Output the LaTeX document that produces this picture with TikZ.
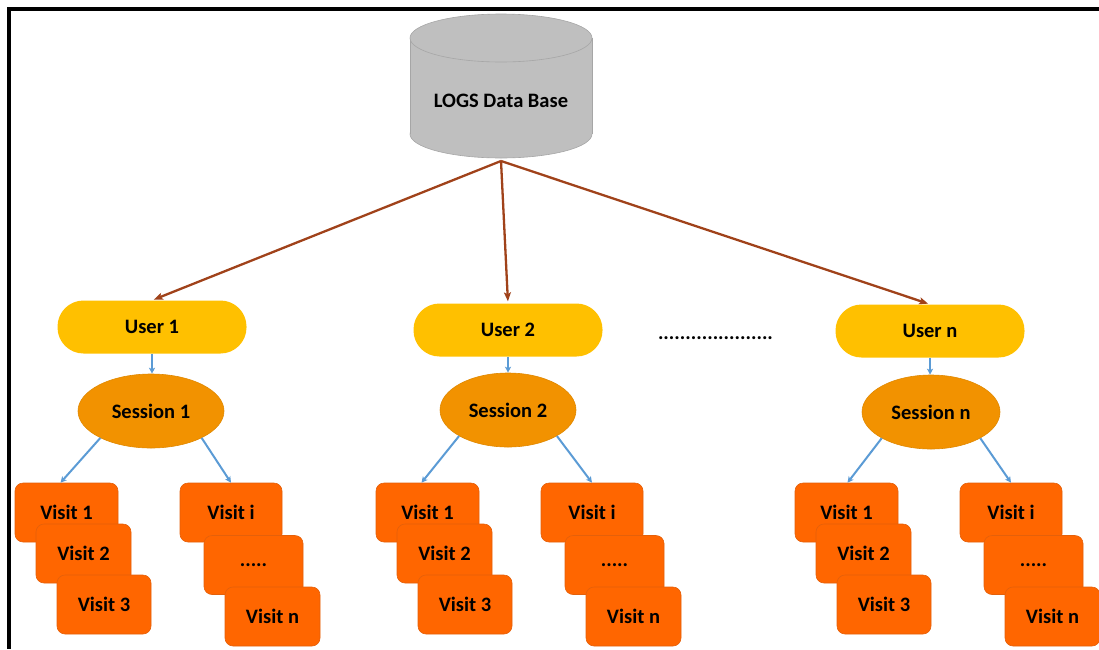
\documentclass[tikz,border=0pt]{standalone}
\usepackage{fontspec}
\setmainfont{Carlito}
\usetikzlibrary{arrows.meta,shapes.geometric}
\definecolor{userc}{HTML}{FFC000}
\definecolor{sessc}{HTML}{F29200}
\definecolor{sessd}{HTML}{E08800}
\definecolor{visitc}{HTML}{FF6600}
\definecolor{visitd}{HTML}{E4600A}
\definecolor{brownc}{HTML}{A0421A}
\definecolor{bluec}{HTML}{5B9BD5}
\definecolor{dbfill}{HTML}{BFBFBF}
\definecolor{dbline}{HTML}{A6A6A6}
\begin{document}
\begin{tikzpicture}[x=1pt,y=-1pt,
  every node/.style={font=\bfseries\fontsize{20.5}{24}\selectfont, inner sep=0pt},
  userbox/.style={fill=userc, rounded corners=26pt, minimum width=189pt, minimum height=53pt},
  sessbox/.style={ellipse, fill=sessc, draw=sessd, line width=0.6pt, minimum height=74pt},
  visitbox/.style={fill=visitc, draw=visitd, line width=0.6pt, rounded corners=8pt, minimum height=59pt},
  brownarrow/.style={draw=brownc, line width=2.3pt, shorten >=2pt, -{Stealth[length=9pt,width=7pt,inset=2pt]}},
  bluearrow/.style={draw=bluec, line width=2pt, -{Stealth[length=6pt,width=6pt,inset=1.5pt]}},
  frameline/.style={line width=4pt, black}
]
\useasboundingbox (0,0) rectangle (1099,649);
% frame
\draw[frameline] (7,9) -- (1099,9);
\draw[frameline] (9,7) -- (9,649);
% database cylinder
\fill[dbfill, draw=dbline, line width=0.6pt] (501,134) ellipse[x radius=91, y radius=24];
\fill[dbfill] (410,38) rectangle (592,134);
\draw[dbline, line width=0.6pt] (410,38) -- (410,134) (592,38) -- (592,134);
\fill[dbfill, draw=dbline, line width=0.6pt] (501,38) ellipse[x radius=91, y radius=24];
\node (db) at (501,101) {LOGS Data Base};
\coordinate (dbb) at (501,161);
% dotted separator
\node[anchor=base] (dots) at (715.5,339) {.....................};
% groups
\foreach \g/\dx/\ux/\uy/\sx/\sy/\sw/\lt in {1/0/152/327/151/411/146/-6, 2/361/508/330/508/410/136/-6, n/780/930/331/931/412/138/1} {
  \node[userbox] (u\g) at (\ux,\uy) {User \g};
  \node[sessbox, minimum width=\sw pt] (s\g) at (\sx,\sy) {Session \g};
  \node[visitbox, minimum width=103pt] (v\g-1) at (66.5+\dx,512.5) {Visit 1};
  \node[visitbox, minimum width=95pt] (v\g-2) at (83.5+\dx,553.5) {Visit 2};
  \node[visitbox, minimum width=94pt] (v\g-3) at (104+\dx,604.5) {Visit 3};
  \node[visitbox, minimum width=102pt] (v\g-i) at (231+\dx,512.5) {Visit i};
  \node[visitbox, minimum width=99pt] (v\g-d) at (253.5+\dx,565) {.....};
  \node[visitbox, minimum width=95pt] (v\g-n) at (272.5+\dx,616.5) {Visit n};
  \draw[bluearrow] (u\g.south) -- (u\g.south |- s\g.north);
  \draw[bluearrow] (s\g.208) -- ([xshift=\lt pt]v\g-1.north);
  \draw[bluearrow] (s\g.332) -- (v\g-i.north);
  \draw[brownarrow] (dbb) -- (u\g.north);
}
\end{tikzpicture}
\end{document}
